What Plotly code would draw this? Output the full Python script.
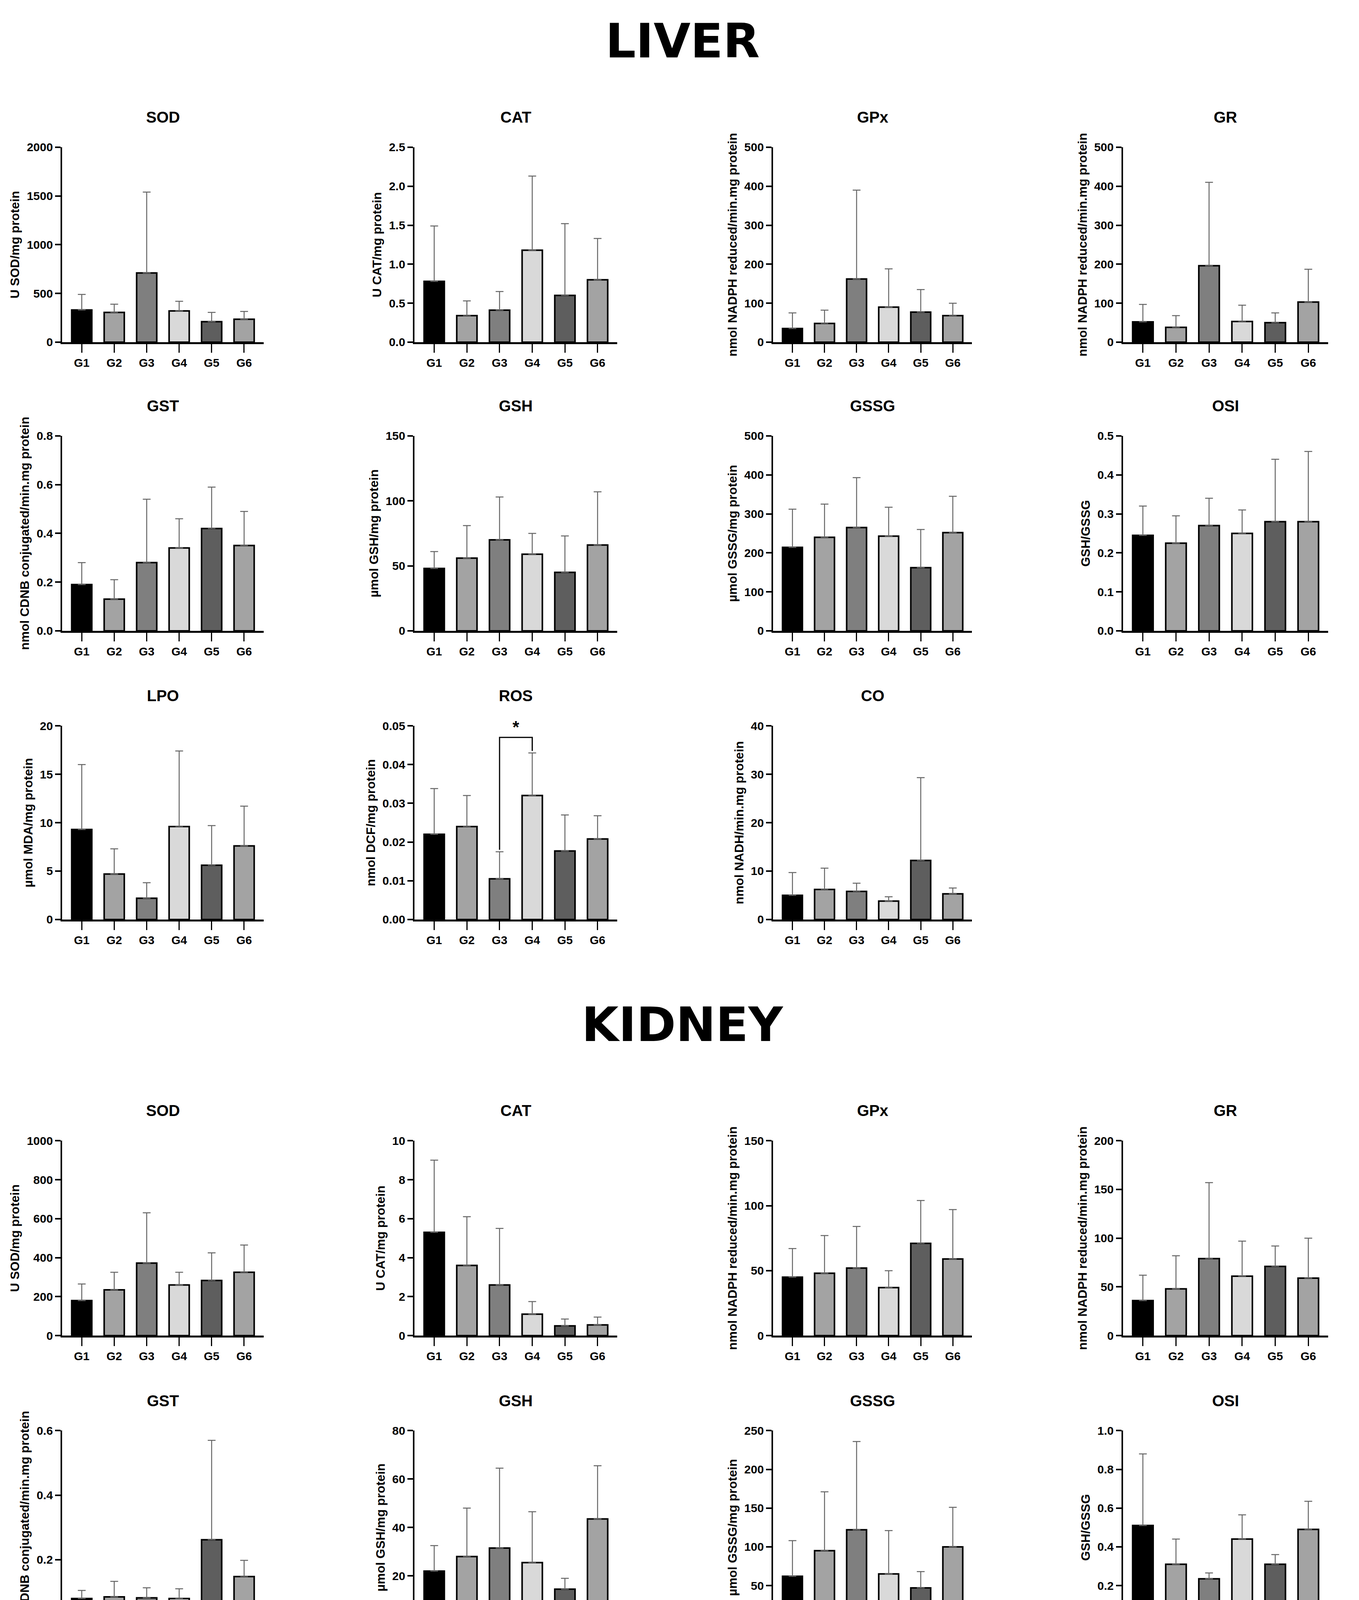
import plotly.graph_objects as go

groups = ["G1", "G2", "G3", "G4", "G5", "G6"]
bar_colors = ["#000000", "#a3a3a3", "#7f7f7f", "#d9d9d9", "#5e5e5e", "#a3a3a3"]

# Liver
liver_titles = ["SOD", "CAT", "GPx", "GR", "GST", "GSH", "GSSG", "OSI", "LPO", "ROS", "CO"]
liver_ylabels = ["U SOD/mg protein", "U CAT/mg protein", "nmol NADPH reduced/min.mg protein",
                 "nmol NADPH reduced/min.mg protein", "nmol CDNB conjugated/min.mg protein",
                 "µmol GSH/mg protein", "µmol GSSG/mg protein", "GSH/GSSG",
                 "µmol MDA/mg protein", "nmol DCF/mg protein", "nmol NADH/min.mg protein"]
liver_mean = [
    [330, 305, 710, 320, 210, 235],
    [0.78, 0.34, 0.41, 1.18, 0.60, 0.80],
    [35, 48, 162, 90, 77, 68],
    [52, 38, 196, 53, 50, 103],
    [0.19, 0.13, 0.28, 0.34, 0.42, 0.35],
    [48, 56, 70, 59, 45, 66],
    [214, 240, 265, 243, 162, 252],
    [0.245, 0.225, 0.27, 0.25, 0.28, 0.28],
    [9.3, 4.7, 2.2, 9.6, 5.6, 7.6],
    [0.022, 0.024, 0.0105, 0.032, 0.0177, 0.0208],
    [5.0, 6.2, 5.8, 3.8, 12.2, 5.3],
]
liver_top = [
    [490, 390, 1540, 420, 305, 315],
    [1.49, 0.53, 0.65, 2.13, 1.52, 1.33],
    [75, 82, 390, 188, 135, 100],
    [97, 68, 410, 95, 75, 187],
    [0.28, 0.21, 0.54, 0.46, 0.59, 0.49],
    [61, 81, 103, 75, 73, 107],
    [312, 325, 393, 317, 260, 345],
    [0.32, 0.295, 0.34, 0.31, 0.44, 0.46],
    [16, 7.3, 3.8, 17.4, 9.7, 11.7],
    [0.0338, 0.032, 0.0175, 0.043, 0.027, 0.0268],
    [9.7, 10.6, 7.5, 4.7, 29.3, 6.5],
]
liver_ymax = [2000, 2.5, 500, 500, 0.8, 150, 500, 0.5, 20, 0.05, 40]
liver_dtick = [500, 0.5, 100, 100, 0.2, 50, 100, 0.1, 5, 0.01, 10]
liver_tickfmt = ["", ".1f", "", "", ".1f", "", "", ".1f", "", ".2f", ""]

# Kidney
kidney_titles = liver_titles
kidney_ylabels = liver_ylabels
kidney_mean = [
    [180, 235, 372, 260, 283, 325],
    [5.3, 3.6, 2.6, 1.1, 0.5, 0.55],
    [45, 48, 52, 37, 71, 59],
    [36, 48, 79, 61, 71, 59],
    [0.08, 0.085, 0.082, 0.08, 0.262, 0.148],
    [22, 28, 31.5, 25.5, 14.5, 43.5],
    [62, 95, 122, 65, 47, 100],
    [0.51, 0.31, 0.235, 0.44, 0.31, 0.49],
    [36, 36, 15.5, 9.5, 8, 9.5],
    [0.069, 0.039, 0.044, 0.019, 0.021, 0.018],
    [4.25, 3.2, 4.0, 3.35, 4.0, 5.15],
]
kidney_top = [
    [265, 325, 630, 325, 425, 465],
    [9.0, 6.1, 5.5, 1.75, 0.85, 0.95],
    [67, 77, 84, 50, 104, 97],
    [62, 82, 157, 97, 92, 100],
    [0.105, 0.133, 0.113, 0.11, 0.57, 0.198],
    [32.5, 48, 64.5, 46.5, 19, 65.5],
    [108, 171, 236, 121, 68, 151],
    [0.88, 0.44, 0.265, 0.565, 0.36, 0.635],
    [57, 50.5, 28.5, 13.5, 10.5, 17],
    [0.119, 0.061, 0.076, 0.024, 0.032, 0.023],
    [6.4, 4.35, 6.3, 4.6, 5.05, 8.7],
]
kidney_ymax = [1000, 10, 150, 200, 0.6, 80, 250, 1.0, 60, 0.15, 10]
kidney_dtick = [200, 2, 50, 50, 0.2, 20, 50, 0.2, 20, 0.05, 2]
kidney_tickfmt = ["", "", "", "", ".1f", "", "", ".1f", "", ".2f", ""]

# significance brackets: (panel, group a, group b, bracket height)
sig_liver = ("ROS", "G3", "G4", 0.047)
sig_kidney = ("LPO", "G2", "G6", 58)

W, H = 3479, 5047
DW, DH = 1080.0, 1567.0
col_x = [(47, 207), (327, 488), (612, 770), (890, 1053)]
liver_rows = [(110, 266), (341, 497), (573, 728)]
kidney_rows = [(905, 1061), (1137, 1292), (1388, 1544)]

FONT = "Liberation Sans"
fig = go.Figure()
annotations = []
shapes = []
layout_axes = {}

def px(x):
    return x / DW

def py(y):
    return 1 - y / DH

idx = 0
for sec, (titles, ylabels, means, tops, ymaxs, dticks, fmts, rows, sig) in enumerate([
        (liver_titles, liver_ylabels, liver_mean, liver_top, liver_ymax, liver_dtick, liver_tickfmt, liver_rows, sig_liver),
        (kidney_titles, kidney_ylabels, kidney_mean, kidney_top, kidney_ymax, kidney_dtick, kidney_tickfmt, kidney_rows, sig_kidney)]):
    for p in range(11):
        idx += 1
        r, c = divmod(p, 4)
        x0, x1 = col_x[c]
        ytop, ybot = rows[r]
        if sec == 1 and r == 2 and p != 8:
            ytop, ybot = 1390, 1544
        xa = "x" if idx == 1 else f"x{idx}"
        ya = "y" if idx == 1 else f"y{idx}"
        mean = means[p]
        top = tops[p]
        fig.add_trace(go.Bar(
            x=groups, y=mean, xaxis=xa, yaxis=ya, width=0.62,
            marker=dict(color=bar_colors, line=dict(color="black", width=4)),
            error_y=dict(type="data", symmetric=False,
                         array=[t - m for t, m in zip(top, mean)],
                         arrayminus=[0] * 6, color="#666666", thickness=2.5, width=10),
            showlegend=False))
        layout_axes["xaxis" if idx == 1 else f"xaxis{idx}"] = dict(
            domain=[px(x0), px(x1)], anchor=ya, range=[-0.6, 5.6],
            showline=True, linecolor="black", linewidth=5, ticks="outside",
            ticklen=22, tickwidth=3, tickcolor="black",
            tickfont=dict(family=FONT, size=30, color="black", weight="bold"), showgrid=False)
        layout_axes["yaxis" if idx == 1 else f"yaxis{idx}"] = dict(
            domain=[py(ybot), py(ytop)], anchor=xa, range=[0, ymaxs[p]], dtick=dticks[p],
            tickformat=fmts[p], showline=True, linecolor="black", linewidth=4,
            ticks="outside", ticklen=14, tickwidth=4, tickcolor="black", showgrid=False, zeroline=False,
            tickfont=dict(family=FONT, size=30, color="black", weight="bold"),
            title=dict(text=ylabels[p], standoff=10,
                       font=dict(family=FONT, size=32, color="black", weight="bold")))
        annotations.append(dict(text=f"<b>{titles[p]}</b>", xref="paper", yref="paper",
                                x=px((x0 + x1) / 2), y=py(ytop - 24), showarrow=False,
                                font=dict(family=FONT, size=40, color="black"),
                                xanchor="center", yanchor="middle"))
        if titles[p] == sig[0]:
            ia, ib, h = groups.index(sig[1]), groups.index(sig[2]), sig[3]
            shapes.append(dict(type="path", xref=xa, yref=ya,
                               path=f"M {ia},{top[ia] + ymaxs[p]*0.01} L {ia},{h} L {ib},{h} L {ib},{top[ib] + ymaxs[p]*0.01}",
                               line=dict(color="black", width=3)))
            annotations.append(dict(text="<b>*</b>", xref=xa, yref=ya, x=(ia + ib) / 2, y=h,
                                    showarrow=False, yanchor="bottom",
                                    font=dict(family=FONT, size=44, color="black")))

annotations.append(dict(text="<b>LIVER</b>", xref="paper", yref="paper", x=0.5, y=py(25),
                        xanchor="center", yanchor="middle",
                        showarrow=False, font=dict(family="DejaVu Sans", size=122, color="black")))
annotations.append(dict(text="<b>KIDNEY</b>", xref="paper", yref="paper", x=0.5, y=py(812),
                        xanchor="center", yanchor="middle",
                        showarrow=False, font=dict(family="DejaVu Sans", size=122, color="black")))

fig.update_layout(width=W, height=H, margin=dict(l=0, r=0, t=0, b=0),
                  plot_bgcolor="white", paper_bgcolor="white",
                  annotations=annotations, shapes=shapes, bargap=0.3, **layout_axes)
fig.write_html("out.html")
